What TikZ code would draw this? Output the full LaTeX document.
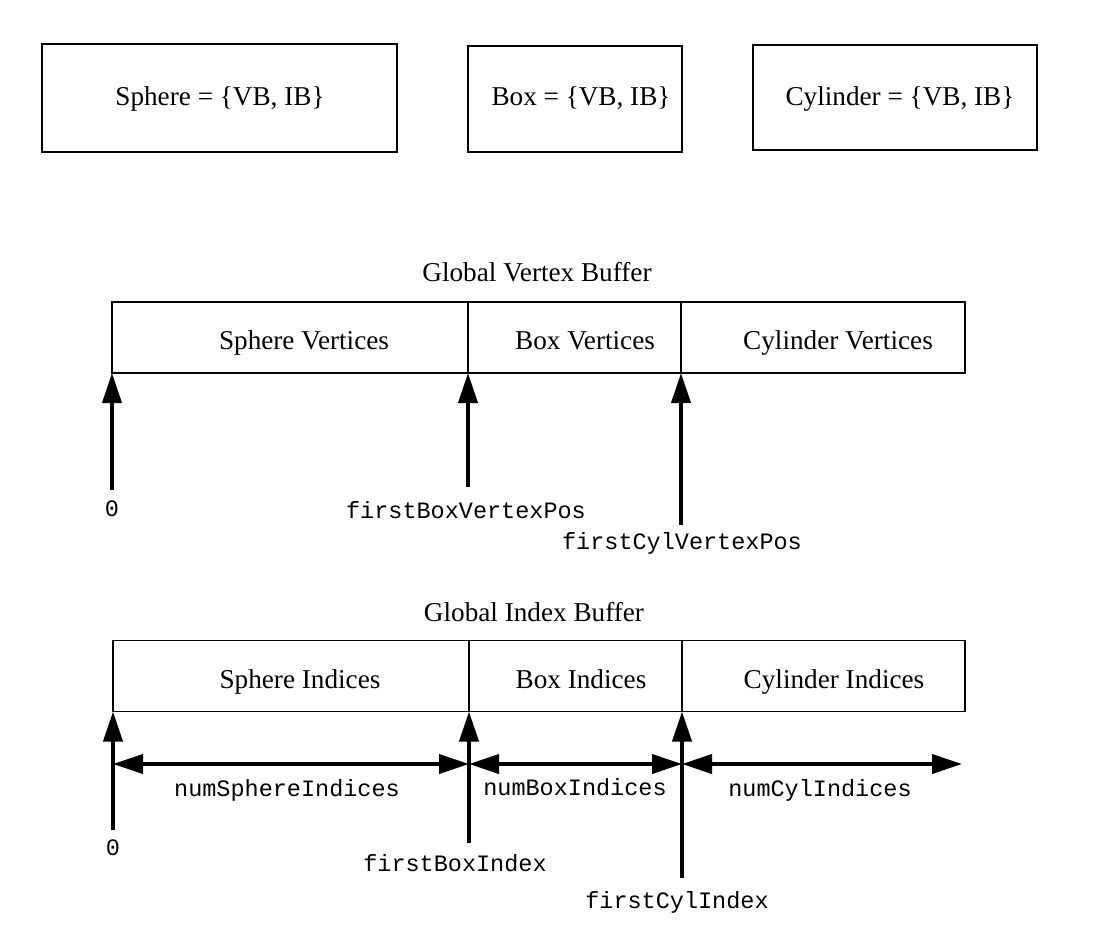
\documentclass[tikz,border=0pt]{standalone}
\usepackage{fontspec}
\setmainfont{Liberation Serif}
\setmonofont{Liberation Mono}
\usetikzlibrary{arrows.meta}
\begin{document}
\begin{tikzpicture}[x=1pt,y=-1pt,
  box/.style={draw,line width=1.8pt,inner sep=0pt,outer sep=0pt},
  seg/.style={draw,line width=1.8pt,inner sep=0pt,outer sep=0pt,minimum height=71pt},
  ser/.style={font=\fontsize{27.2}{30}\selectfont,anchor=base,inner sep=0pt},
  mono/.style={font=\fontsize{23.5}{26}\selectfont\ttfamily,anchor=base,inner sep=0pt},
  arr/.style={line width=4pt,-{Triangle[length=30pt,width=19pt]}},
  darr/.style={line width=4pt,{Triangle[length=30pt,width=19pt]}-{Triangle[length=30pt,width=19pt]}}]
\useasboundingbox (0,0) rectangle (1094,930);
% top boxes
\node[box,minimum width=355pt,minimum height=108pt] (sphere) at (219.5,98) {};
\node[box,minimum width=214pt,minimum height=106pt] (boxb) at (575,99) {};
\node[box,minimum width=284pt,minimum height=105pt] (cyl) at (895,97.5) {};
\node[ser] (tsphere) at (220,105) {Sphere = \{VB, IB\}};
\node[ser] (tbox) at (581,105.5) {Box = \{VB, IB\}};
\node[ser] (tcyl) at (900,105) {Cylinder = \{VB, IB\}};
% vertex buffer
\node[ser] (gvb) at (537,281.7) {Global Vertex Buffer};
\node[seg,minimum width=356pt] (sv) at (290,337.5) {};
\node[seg,minimum width=213pt] (bv) at (574.5,337.5) {};
\node[seg,minimum width=284pt] (cv) at (823,337.5) {};
\node[ser] (tsv) at (304,349) {Sphere Vertices};
\node[ser] (tbv) at (585,349) {Box Vertices};
\node[ser] (tcv) at (838,349) {Cylinder Vertices};
\coordinate (v0) at (112,490);
\coordinate (v1) at (468,487);
\coordinate (v2) at (681,525);
\draw[arr] (v0) -- (sv.south west);
\draw[arr] (v1) -- (bv.south west);
\draw[arr] (v2) -- (cv.south west);
\node[mono] (l0) at (112,516) {0};
\node[mono] (l1) at (466,518) {firstBoxVertexPos};
\node[mono] (l2) at (682,549) {firstCylVertexPos};
% index buffer
\node[ser] (gib) at (534,621.7) {Global Index Buffer};
\node[seg,minimum width=356pt] (si) at (291,676) {};
\node[seg,minimum width=213pt] (bi) at (575.5,676) {};
\node[seg,minimum width=283pt] (ci) at (823.5,676) {};
\node[ser] (tsi) at (300,688) {Sphere Indices};
\node[ser] (tbi) at (581,688) {Box Indices};
\node[ser] (tci) at (834,688) {Cylinder Indices};
\coordinate (i0) at (113,830);
\coordinate (i1) at (469,843);
\coordinate (i2) at (682,878);
\draw[arr] (i0) -- (si.south west);
\draw[arr] (i1) -- (bi.south west);
\draw[arr] (i2) -- (ci.south west);
\coordinate (h0) at (113,764);
\coordinate (h1) at (469,764);
\coordinate (h2) at (682,764);
\coordinate (h3) at (962,764);
\draw[darr] (h0) -- (h1);
\draw[darr] (h1) -- (h2);
\draw[darr] (h2) -- (h3);
\node[mono] (n0) at (287,796.5) {numSphereIndices};
\node[mono] (n1) at (575,795) {numBoxIndices};
\node[mono] (n2) at (820,796.5) {numCylIndices};
\node[mono] (k0) at (113,855) {0};
\node[mono] (k1) at (455,871.7) {firstBoxIndex};
\node[mono] (k2) at (677,908) {firstCylIndex};
\end{tikzpicture}
\end{document}
